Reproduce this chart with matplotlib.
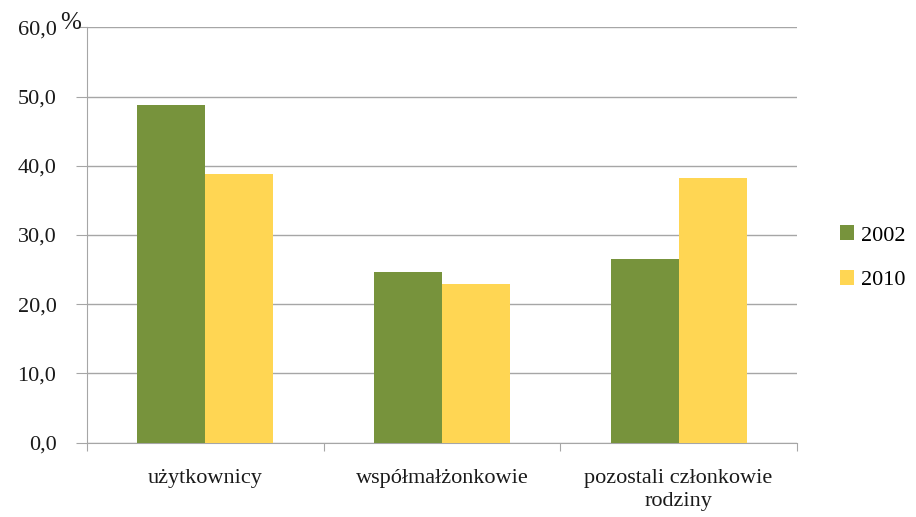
import numpy as np
import matplotlib
matplotlib.use('Agg')
import matplotlib.pyplot as plt

categories = ['użytkownicy', 'współmałżonkowie', 'pozostali członkowie\nrodziny']
years = ['2002', '2010']
v2002 = [48.8, 24.7, 26.6]
v2010 = [38.8, 22.9, 38.2]
yticks = [0, 10, 20, 30, 40, 50, 60]
ytick_labels = ['0,0', '10,0', '20,0', '30,0', '40,0', '50,0', '60,0']

plt.rcParams['font.family'] = ['Liberation Serif', 'DejaVu Serif']
fs = 16

fig = plt.figure(figsize=(9.16, 5.17), dpi=100)
ax = fig.add_axes([0.095, 0.1437, 0.775, 0.8035])

x = np.arange(len(categories))
w = 0.287
ax.bar(x - w / 2, v2002, w, color='#77933C', label=years[0], zorder=3)
ax.bar(x + w / 2, v2010, w, color='#FFD653', label=years[1], zorder=3)

ax.set_xlim(-0.5, len(categories) - 0.5)
ax.set_ylim(0, 60)
ax.set_yticks(yticks)
ax.set_yticklabels(ytick_labels, fontsize=fs, color='#1a1a1a')
ax.yaxis.grid(True, color='#A6A6A6', linewidth=1, zorder=0)

# ticks at category boundaries, labels centered
ax.set_xticks(np.arange(-0.5, len(categories), 1))
ax.set_xticklabels([])
ax.set_xticks(x, minor=True)
ax.set_xticklabels(categories, minor=True, fontsize=fs, color='#1a1a1a', linespacing=1.3)
ax.tick_params(axis='x', which='minor', length=0, pad=19)
ax.tick_params(axis='x', which='major', length=6, color='#A6A6A6')
ax.tick_params(axis='y', length=8, color='#A6A6A6', pad=14)

for s in ['top', 'right']:
    ax.spines[s].set_visible(False)
for s in ['left', 'bottom']:
    ax.spines[s].set_color('#A6A6A6')

fig.text(60 / 916, 1 - 34 / 517, '%', fontsize=18, va='bottom', ha='left', color='#1a1a1a')

ax.legend(loc='center left', bbox_to_anchor=(1.06, 0.445), frameon=False,
          fontsize=fs, handlelength=0.65, handleheight=0.65, handletextpad=0.3,
          labelspacing=1.1, borderpad=0, borderaxespad=0)

fig.savefig('out.png', dpi=100)
